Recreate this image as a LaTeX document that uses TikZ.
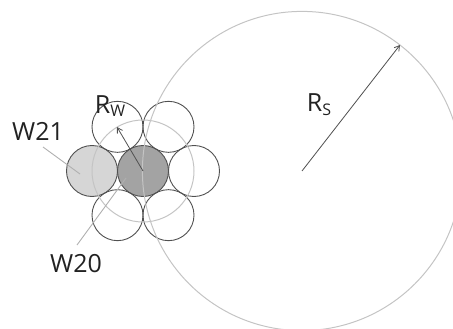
\documentclass[tikz,border=0pt]{standalone}
\usepackage{fontspec}
\setmainfont{Open Sans}
\usetikzlibrary{arrows.meta, calc}
\usepackage{xcolor}
\definecolor{wirecore}{HTML}{A3A3A3}
\definecolor{wireside}{HTML}{D6D6D6}
\definecolor{wireline}{HTML}{505050}
\definecolor{guideline}{HTML}{C4C4C4}
\definecolor{labeltext}{HTML}{222222}
\newcommand{\radlabel}[2]{#1\raisebox{-0.28ex}{\fontsize{16}{18}\selectfont #2}}

\begin{document}
\begin{tikzpicture}[x=1pt, y=-1pt, >={Straight Barb[length=5pt, width=6pt]},
  wire/.style={draw=wireline, line width=0.9pt},
  guide/.style={draw=guideline, line width=1pt},
  pointer/.style={draw=wireline, line width=0.8pt, ->},
  leader/.style={draw=guideline!90!black, line width=0.9pt},
  tag/.style={text=labeltext, inner sep=0pt, font=\fontsize{25}{30}\selectfont}]
  \useasboundingbox (0,0) rectangle (453,329);
  \clip (0,0) rectangle (453,329);

  % Coordinates for the wire bundle and the strand
  \coordinate (W_C) at (143,171);
  \coordinate (W_L) at ($(W_C)+(-51,0)$);
  \coordinate (W_E) at (117,127);
  \coordinate (S_C) at (302,171);
  \coordinate (S_E) at (400,45);

  % Fill the two marked wires
  \fill[wirecore] (W_C) circle (25.5);
  \fill[wireside] (W_L) circle (25.5);

  % Draw wire outlines
  \draw[wire] (W_C) circle (25.5);
  \foreach \a in {0,60,...,300}
    \draw[wire] ($(W_C)+(\a:51)$) circle (25.5);

  % Draw the two guide circles
  \draw[guide] (W_C) circle (51);
  \draw[guide] (S_C) circle (159.6);

  % Radii
  \draw[pointer] (W_C) -- (W_E);
  \draw[pointer] (S_C) -- (S_E);

  % Labels
  \node[tag] (Rw) at (110,106) {\radlabel{R}{W}};
  \node[tag] (Rs) at (319,105) {\radlabel{R}{S}};
  \node[tag] (W21) at (38,131) {W21};
  \node[tag] (W20) at (76,264) {W20};

  % Leader lines
  \coordinate (W21_A) at (43,147);
  \coordinate (W21_B) at (80,174);
  \coordinate (W20_A) at (77,245);
  \coordinate (W20_B) at (126,178);
  \draw[leader] (W21_A) -- (W21_B);
  \draw[leader] (W20_A) -- (W20_B);
\end{tikzpicture}
\end{document}
